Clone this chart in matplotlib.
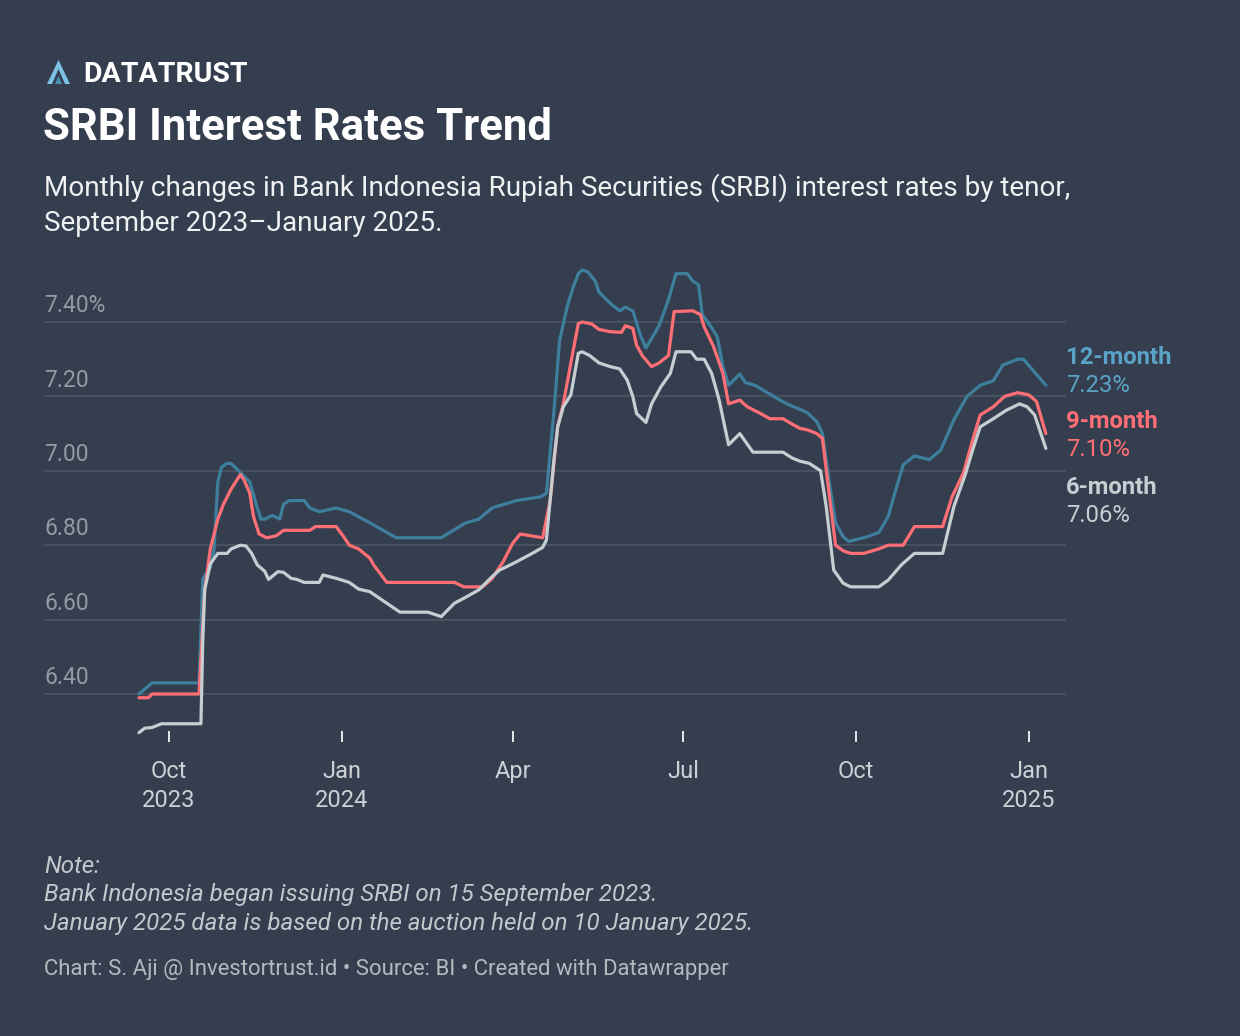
import pandas as pd
import matplotlib.pyplot as plt
from matplotlib.patches import Polygon

# === DATA: SRBI rates by tenor === #
dates_12m = ['2023-09-15', '2023-09-22', '2023-10-17', '2023-10-19', '2023-10-23', '2023-10-25',
             '2023-10-27', '2023-10-29', '2023-11-01', '2023-11-03', '2023-11-09', '2023-11-13',
             '2023-11-17', '2023-11-19', '2023-11-21', '2023-11-25', '2023-11-29', '2023-12-01',
             '2023-12-04', '2023-12-12', '2023-12-15', '2023-12-20', '2023-12-29', '2024-01-05',
             '2024-01-16', '2024-01-30', '2024-02-23', '2024-03-07', '2024-03-14', '2024-03-21',
             '2024-04-03', '2024-04-16', '2024-04-19', '2024-04-23', '2024-04-26', '2024-04-30',
             '2024-05-03', '2024-05-06', '2024-05-08', '2024-05-11', '2024-05-15', '2024-05-17',
             '2024-05-23', '2024-05-28', '2024-05-31', '2024-06-04', '2024-06-08', '2024-06-11',
             '2024-06-18', '2024-06-23', '2024-06-27', '2024-07-03', '2024-07-06', '2024-07-09',
             '2024-07-11', '2024-07-16', '2024-07-19', '2024-07-22', '2024-07-25', '2024-07-28',
             '2024-07-31', '2024-08-03', '2024-08-08', '2024-08-18', '2024-08-25', '2024-09-01',
             '2024-09-05', '2024-09-10', '2024-09-13', '2024-09-17', '2024-09-20', '2024-09-24',
             '2024-09-27', '2024-10-07', '2024-10-13', '2024-10-18', '2024-10-22', '2024-10-26',
             '2024-11-01', '2024-11-09', '2024-11-15', '2024-11-22', '2024-11-29', '2024-12-06',
             '2024-12-13', '2024-12-18', '2024-12-26', '2024-12-29', '2025-01-10']
rate_12m = [6.40, 6.43, 6.43, 6.71, 6.74, 6.79,
            6.97, 7.01, 7.02, 7.02, 6.99, 6.97,
            6.90, 6.87, 6.87, 6.88, 6.87, 6.91,
            6.92, 6.92, 6.90, 6.89, 6.90, 6.89,
            6.86, 6.82, 6.82, 6.86, 6.87, 6.90,
            6.92, 6.93, 6.94, 7.16, 7.35, 7.44,
            7.49, 7.53, 7.54, 7.535, 7.51, 7.48,
            7.45, 7.43, 7.44, 7.43, 7.365, 7.33,
            7.39, 7.46, 7.53, 7.53, 7.51, 7.50,
            7.42, 7.385, 7.36, 7.28, 7.23, 7.245,
            7.26, 7.237, 7.23, 7.20, 7.18, 7.165,
            7.156, 7.132, 7.10, 6.957, 6.86, 6.823,
            6.81, 6.823, 6.834, 6.877, 6.948, 7.016,
            7.04, 7.03, 7.056, 7.137, 7.20, 7.23,
            7.242, 7.284, 7.30, 7.30, 7.23]

dates_9m = ['2023-09-15', '2023-09-20', '2023-09-22', '2023-10-17', '2023-10-20', '2023-10-23',
            '2023-10-27', '2023-10-30', '2023-11-03', '2023-11-08', '2023-11-10', '2023-11-13',
            '2023-11-15', '2023-11-18', '2023-11-22', '2023-11-27', '2023-12-01', '2023-12-15',
            '2023-12-18', '2023-12-29', '2024-01-02', '2024-01-05', '2024-01-10', '2024-01-16',
            '2024-01-18', '2024-01-25', '2024-03-01', '2024-03-06', '2024-03-16', '2024-03-21',
            '2024-03-27', '2024-04-01', '2024-04-05', '2024-04-17', '2024-04-21', '2024-04-25',
            '2024-04-28', '2024-05-02', '2024-05-06', '2024-05-08', '2024-05-13', '2024-05-17',
            '2024-05-23', '2024-05-29', '2024-05-31', '2024-06-04', '2024-06-06', '2024-06-09',
            '2024-06-14', '2024-06-18', '2024-06-23', '2024-06-26', '2024-07-06', '2024-07-10',
            '2024-07-12', '2024-07-17', '2024-07-22', '2024-07-25', '2024-07-31', '2024-08-04',
            '2024-08-11', '2024-08-16', '2024-08-23', '2024-08-27', '2024-09-01', '2024-09-05',
            '2024-09-10', '2024-09-13', '2024-09-17', '2024-09-20', '2024-09-24', '2024-09-28',
            '2024-10-05', '2024-10-13', '2024-10-18', '2024-10-26', '2024-11-01', '2024-11-16',
            '2024-11-21', '2024-11-27', '2024-12-02', '2024-12-06', '2024-12-13', '2024-12-19',
            '2024-12-26', '2025-01-01', '2025-01-05', '2025-01-10']
rate_9m = [6.39, 6.39, 6.40, 6.40, 6.68, 6.79,
           6.87, 6.91, 6.95, 6.99, 6.975, 6.94,
           6.877, 6.83, 6.82, 6.825, 6.84, 6.84,
           6.85, 6.85, 6.823, 6.80, 6.79, 6.765,
           6.747, 6.70, 6.70, 6.688, 6.688, 6.71,
           6.756, 6.805, 6.83, 6.82, 6.92, 7.12,
           7.18, 7.29, 7.396, 7.40, 7.395, 7.38,
           7.374, 7.372, 7.39, 7.383, 7.338, 7.31,
           7.28, 7.29, 7.31, 7.428, 7.43, 7.42,
           7.387, 7.334, 7.262, 7.18, 7.19, 7.172,
           7.154, 7.14, 7.14, 7.128, 7.114, 7.11,
           7.10, 7.087, 6.92, 6.80, 6.785, 6.778,
           6.778, 6.79, 6.80, 6.80, 6.85, 6.85,
           6.93, 6.993, 7.083, 7.15, 7.172, 7.20,
           7.21, 7.204, 7.186, 7.10]

dates_6m = ['2023-09-15', '2023-09-18', '2023-09-22', '2023-09-27', '2023-10-18', '2023-10-19',
            '2023-10-20', '2023-10-23', '2023-10-27', '2023-11-01', '2023-11-03', '2023-11-08',
            '2023-11-11', '2023-11-14', '2023-11-17', '2023-11-21', '2023-11-23', '2023-11-28',
            '2023-12-01', '2023-12-05', '2023-12-08', '2023-12-12', '2023-12-20', '2023-12-22',
            '2023-12-29', '2024-01-05', '2024-01-10', '2024-01-16', '2024-01-18', '2024-01-25',
            '2024-02-01', '2024-02-16', '2024-02-23', '2024-03-01', '2024-03-07', '2024-03-14',
            '2024-03-21', '2024-03-25', '2024-04-01', '2024-04-10', '2024-04-17', '2024-04-19',
            '2024-04-23', '2024-04-25', '2024-04-28', '2024-05-02', '2024-05-06', '2024-05-08',
            '2024-05-12', '2024-05-17', '2024-05-23', '2024-05-28', '2024-06-01', '2024-06-04',
            '2024-06-06', '2024-06-11', '2024-06-14', '2024-06-19', '2024-06-24', '2024-06-27',
            '2024-07-05', '2024-07-08', '2024-07-12', '2024-07-16', '2024-07-20', '2024-07-25',
            '2024-07-31', '2024-08-07', '2024-08-23', '2024-08-28', '2024-09-01', '2024-09-06',
            '2024-09-12', '2024-09-15', '2024-09-19', '2024-09-24', '2024-09-28', '2024-10-13',
            '2024-10-18', '2024-10-25', '2024-11-01', '2024-11-16', '2024-11-22', '2024-11-28',
            '2024-12-02', '2024-12-06', '2024-12-13', '2024-12-20', '2024-12-27', '2024-12-31',
            '2025-01-04', '2025-01-10']
rate_6m = [6.296, 6.308, 6.31, 6.32, 6.32, 6.545,
           6.68, 6.75, 6.778, 6.778, 6.79, 6.80,
           6.798, 6.778, 6.747, 6.73, 6.708, 6.729,
           6.727, 6.711, 6.708, 6.70, 6.70, 6.72,
           6.711, 6.70, 6.682, 6.675, 6.668, 6.644,
           6.62, 6.62, 6.608, 6.644, 6.66, 6.68,
           6.715, 6.733, 6.75, 6.774, 6.794, 6.814,
           7.03, 7.118, 7.172, 7.204, 7.316, 7.32,
           7.31, 7.29, 7.28, 7.274, 7.244, 7.20,
           7.154, 7.13, 7.18, 7.226, 7.262, 7.32,
           7.32, 7.30, 7.30, 7.262, 7.19, 7.07,
           7.10, 7.05, 7.05, 7.034, 7.026, 7.02,
           7.00, 6.904, 6.733, 6.698, 6.688, 6.688,
           6.706, 6.747, 6.778, 6.778, 6.904, 6.989,
           7.056, 7.118, 7.14, 7.163, 7.18, 7.172,
           7.15, 7.06]

tenors = ['12-month', '9-month', '6-month']
y_ticks = [6.40, 6.60, 6.80, 7.00, 7.20, 7.40]
y_tick_labels = ['6.40', '6.60', '6.80', '7.00', '7.20', '7.40%']
x_ticks = ['2023-10-01', '2024-01-01', '2024-04-01', '2024-07-01', '2024-10-01', '2025-01-01']
x_tick_labels = ['Oct\n2023', 'Jan\n2024', 'Apr', 'Jul', 'Oct', 'Jan\n2025']

# === STYLE === #
BG = '#343e4e'
GRID = '#4b5463'
COR_LINHA = {'12-month': '#3d7f9c', '9-month': '#ff6f75', '6-month': '#c6ced2'}
COR_TEXTO = {'12-month': '#5aa3c6', '9-month': '#ff6f75', '6-month': '#c6ced2'}
W, H = 1240, 1036

plt.rcParams['font.family'] = ['Roboto', 'DejaVu Sans']

fig = plt.figure(figsize=(W / 100, H / 100), dpi=100, facecolor=BG)


def fx(x):
    return x / W


def fy(y):
    return 1 - y / H


# eixo: gridlines de x=44 a 1066, de y=260 a 742
ax = fig.add_axes([fx(44), fy(742), (1066 - 44) / W, (742 - 260) / H])
ax.set_facecolor(BG)
for s in ax.spines.values():
    s.set_visible(False)

px_por_dia = (1029 - 169) / 458
x0 = pd.Timestamp('2023-10-01')
ax.set_xlim(x0 - pd.Timedelta(days=(169 - 44) / px_por_dia),
            x0 + pd.Timedelta(days=(1066 - 169) / px_por_dia))
px_por_ponto = 372.0
ax.set_ylim(6.40 - (742 - 694) / px_por_ponto, 6.40 + (694 - 260) / px_por_ponto)

for v, lab in zip(y_ticks, y_tick_labels):
    ax.axhline(v, color=GRID, lw=1.2, zorder=1)
    ax.annotate(lab, xy=(0, v), xycoords=('axes fraction', 'data'),
                xytext=(0, 3.5), textcoords='offset points',
                ha='left', va='bottom', fontsize=16.5, color='#939aa3')
ax.set_yticks([])

series = {
    '12-month': (dates_12m, rate_12m),
    '9-month': (dates_9m, rate_9m),
    '6-month': (dates_6m, rate_6m),
}
for i, nome in enumerate(tenors):
    d, r = series[nome]
    ax.plot(pd.to_datetime(d), r, color=COR_LINHA[nome], lw=2.3,
            solid_joinstyle='round', solid_capstyle='round', zorder=3 + i)

ax.set_xticks(pd.to_datetime(x_ticks))
ax.set_xticklabels(x_tick_labels)
ax.tick_params(axis='x', direction='in', length=8, width=1.4, color='#e6e8ea',
               labelsize=17, labelcolor='#cdd1d5', pad=13)
for lbl in ax.get_xticklabels():
    lbl.set_linespacing(1.35)

# rótulos à direita
rotulos = [('12-month', '7.23%', 358), ('9-month', '7.10%', 422), ('6-month', '7.06%', 488)]
for nome, valor, y in rotulos:
    fig.text(fx(1066), fy(y), nome, color=COR_TEXTO[nome], fontsize=17.2,
             fontweight='bold', va='center', ha='left')
    fig.text(fx(1066), fy(y + 28), valor, color=COR_TEXTO[nome], fontsize=17.2,
             va='center', ha='left')

# logo + títulos
fig.patches.append(Polygon([[fx(47), fy(84)], [fx(58.5), fy(60)], [fx(70), fy(84)],
                            [fx(65), fy(84)], [fx(58.5), fy(69)], [fx(52), fy(84)]],
                           closed=True, transform=fig.transFigure, facecolor='#7cc3e4',
                           edgecolor='none'))
fig.patches.append(Polygon([[fx(55), fy(84)], [fx(58.5), fy(76)], [fx(62), fy(84)]],
                           closed=True, transform=fig.transFigure, facecolor='#4a93b8',
                           edgecolor='none'))
fig.text(fx(83), fy(75), 'DATATRUST', color='white', fontsize=20.5, fontweight='bold',
         va='center', ha='left')
fig.text(fx(43), fy(128), 'SRBI Interest Rates Trend', color='white', fontsize=31.5,
         fontweight='bold', va='center', ha='left')
fig.text(fx(44), fy(205), 'Monthly changes in Bank Indonesia Rupiah Securities (SRBI) interest rates by tenor,\n'
         'September 2023\u2013January 2025.', color='#eef0f2', fontsize=20.1,
         va='center', ha='left', linespacing=1.36)

# nota e rodapé
fig.text(fx(44), fy(895), 'Note:\nBank Indonesia began issuing SRBI on 15 September 2023.\n'
         'January 2025 data is based on the auction held on 10 January 2025.',
         color='#c4c8cd', fontsize=17.4, style='italic', va='center', ha='left', linespacing=1.33)
fig.text(fx(44), fy(969), 'Chart: S. Aji @ Investortrust.id \u2022 Source: BI \u2022 Created with Datawrapper',
         color='#b4b9bf', fontsize=15.9, va='center', ha='left')

plt.savefig('out.png', dpi=100, facecolor=BG)
